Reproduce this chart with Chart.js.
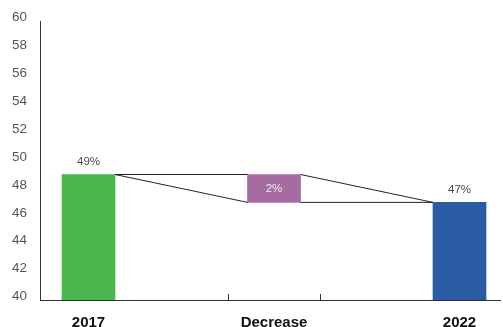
<!DOCTYPE html>
<html>
<head>
<meta charset="utf-8">
<script src="https://cdn.jsdelivr.net/npm/chart.js@4"></script>
<style>
  html, body { margin: 0; padding: 0; background: #fff; }
  #wrap { width: 503px; height: 327px; }
</style>
</head>
<body>
<div id="wrap"><canvas id="c" width="503" height="327"></canvas></div>
<script>
const categories = ["2017", "Decrease", "2022"]
const startValue = 49
const changeValue = -2
const endValue = 47
const valueLabels = ["49%", "2%", "47%"]
const yTicks = [40, 42, 44, 46, 48, 50, 52, 54, 56, 58, 60]
const barColors = ["#4cb64e", "#a66ba0", "#2b5ba2"]

// bar half width in x units (bar = 53px, step = 185.5px)
const half = 53 / 185.5 / 2
const minorTicks = [0.75, 1.25]

const lineStyle = { type: "line", borderColor: "#222", borderWidth: 1, pointRadius: 0, fill: false, order: 0 }
function seg(x1, y1, x2, y2) {
    return Object.assign({ data: [{ x: x1, y: y1 }, { x: x2, y: y2 }] }, lineStyle)
}
const lowValue = Math.min(startValue, startValue + changeValue)

const labelPlugin = {
    id: "labels",
    afterDatasetsDraw(chart) {
        const ctx = chart.ctx
        const meta = chart.getDatasetMeta(0)
        ctx.save()
        ctx.font = "11.5px 'Liberation Sans', Arial, sans-serif"
        ctx.textAlign = "center"
        ctx.textBaseline = "middle"
        meta.data.forEach((bar, i) => {
            if (i == 1) {
                ctx.fillStyle = "#eeeeee"
                ctx.fillText(valueLabels[i], bar.x, (bar.y + bar.base) / 2)
            } else {
                ctx.fillStyle = "#4a4a4a"
                ctx.fillText(valueLabels[i], bar.x, bar.y - 13)
            }
        })
        // small tick marks on x axis
        const xs = chart.scales.x
        ctx.strokeStyle = "#333"
        ctx.lineWidth = 1
        for (let v of minorTicks) {
            let px = Math.round(xs.getPixelForValue(v)) + 0.5
            ctx.beginPath()
            ctx.moveTo(px, chart.chartArea.bottom)
            ctx.lineTo(px, chart.chartArea.bottom - 6)
            ctx.stroke()
        }
        ctx.restore()
    }
}

new Chart(document.getElementById("c").getContext("2d"), {
    type: "bar",
    data: {
        datasets: [
            {
                type: "bar",
                data: [
                    { x: 0, y: startValue },
                    { x: 1, y: [lowValue, startValue] },
                    { x: 2, y: endValue }
                ],
                backgroundColor: barColors,
                barThickness: 53,
                order: 1
            },
            seg(0 + half, startValue, 1 - half, startValue),
            seg(0 + half, startValue, 1 - half, startValue + changeValue),
            seg(1 + half, startValue, 2 - half, endValue),
            seg(1 + half, startValue + changeValue, 2 - half, endValue)
        ]
    },
    options: {
        responsive: false,
        animation: false,
        layout: { padding: { top: 20, right: 3, left: 0, bottom: 0 } },
        plugins: { legend: { display: false }, tooltip: { enabled: false } },
        scales: {
            x: {
                type: "linear",
                offset: false,
                min: -48.5 / 185.5,
                max: 460 / 185.5 - 48.5 / 185.5,
                afterBuildTicks: (s) => { s.ticks = categories.map((c, i) => ({ value: i })) },
                afterFit: (s) => { s.height = 27 },
                grid: { display: false, drawTicks: false, offset: false },
                border: { display: true, color: "#333", width: 1 },
                ticks: {
                    padding: 14,
                    color: "#111",
                    font: { family: "'Liberation Sans', Arial, sans-serif", size: 15, weight: "bold" },
                    callback: (v) => categories[v]
                }
            },
            y: {
                min: 40,
                max: 60,
                afterBuildTicks: (s) => { s.ticks = yTicks.map(v => ({ value: v })) },
                afterFit: (s) => { s.width = 40 },
                grid: { display: false, drawTicks: false },
                border: { display: true, color: "#333", width: 1 },
                ticks: {
                    padding: 13,
                    labelOffset: -3.5,
                    color: "#555",
                    font: { family: "'Liberation Sans', Arial, sans-serif", size: 13.5 }
                }
            }
        }
    },
    plugins: [labelPlugin]
})
</script>
</body>
</html>
